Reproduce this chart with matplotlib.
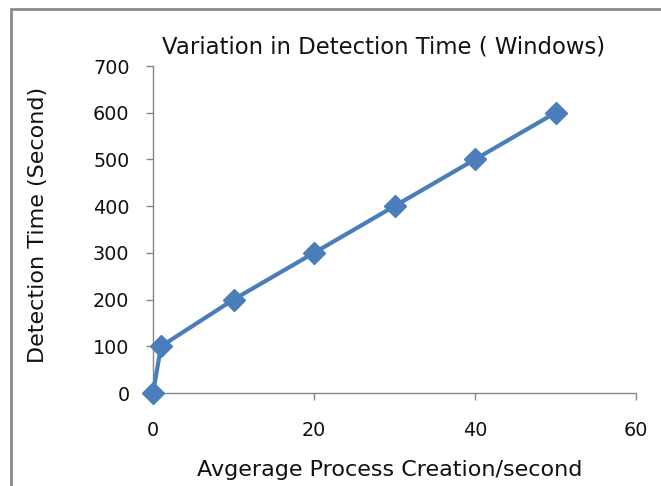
import matplotlib
matplotlib.use("Agg")
import matplotlib.pyplot as plt
from matplotlib.patches import Rectangle

x_vals = [0, 1, 10, 20, 30, 40, 50]
y_vals = [0, 100, 200, 300, 400, 500, 600]
x_ticks = [0, 20, 40, 60]
y_ticks = [0, 100, 200, 300, 400, 500, 600, 700]
title = "Variation in Detection Time ( Windows)"
xlabel = "Avgerage Process Creation/second"
ylabel = "Detection Time (Second)"

plt.rcParams['font.family'] = ['DejaVu Sans']
W, H = 661, 486
fig = plt.figure(figsize=(W/100, H/100), dpi=100)
fig.patch.set_facecolor('white')

ax = fig.add_axes([153/W, 1-393/H, (636-153)/W, (393-66)/H])
ax.plot(x_vals, y_vals, color='#4A7EBB', lw=3.0, marker='D', markersize=11.5,
        markerfacecolor='#4A7EBB', markeredgecolor='#4A7EBB', clip_on=False, zorder=3)
ax.set_xlim(0, 60)
ax.set_ylim(0, 700)
ax.set_xticks(x_ticks)
ax.set_yticks(y_ticks)
for s in ['top', 'right']:
    ax.spines[s].set_visible(False)
for s in ['left', 'bottom']:
    ax.spines[s].set_color('#868686')
    ax.spines[s].set_linewidth(1.0)
ax.tick_params(axis='both', colors='#868686', length=5, width=1.0, direction='out',
               labelsize=13.8, labelcolor='#111111')
ax.tick_params(axis='y', pad=12)
ax.tick_params(axis='x', pad=15)

fig.text(383.5/W, 1-53.3/H, title, ha='center', va='baseline', fontsize=16.4, color='#111111')
fig.text(390/W, 1-475.5/H, xlabel, ha='center', va='baseline', fontsize=16.0, color='#111111')
fig.text(38/W, 1-225/H, ylabel, ha='center', va='center', rotation=90, fontsize=16.0, color='#111111')

fig.patches.append(Rectangle((11/W, -0.1), 1.2, 1.1 - 9/H, transform=fig.transFigure,
                             fill=False, edgecolor='#8a8a8a', lw=2.0))

fig.savefig('out.png', dpi=100)
